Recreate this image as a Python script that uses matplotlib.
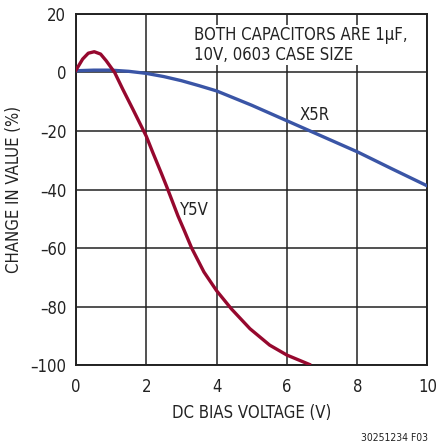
import matplotlib.pyplot as plt
import matplotlib.font_manager as fm

# X5R and Y5V capacitance change vs DC bias
x5r_v = [0, 0.5, 1.0, 1.5, 2.0, 2.5, 3.0, 3.5, 4.0, 5.0, 6.0, 7.0, 8.0, 9.0, 10.0]
x5r_pct = [0.6, 0.8, 0.8, 0.4, -0.3, -1.4, -2.8, -4.5, -6.3, -11.2, -16.5, -21.8, -27.1, -33.0, -38.8]

y5v_v = [0, 0.19, 0.35, 0.52, 0.7, 0.86, 1.1, 1.33, 1.62, 2.0, 2.19, 2.43, 2.58, 2.9,
         3.08, 3.29, 3.64, 4.0, 4.42, 4.95, 5.51, 6.0, 6.64]
y5v_pct = [0.8, 4.6, 6.6, 7.1, 6.3, 4.0, 0.0, -5.7, -12.6, -21.8, -27.5, -34.5, -39.0, -49.0,
           -54.0, -60.0, -68.2, -74.6, -80.8, -87.6, -93.2, -96.6, -99.8]

xticks = [0, 2, 4, 6, 8, 10]
yticks = [20, 0, -20, -40, -60, -80, -100]

names = {f.name for f in fm.fontManager.ttflist}
if 'Liberation Sans Narrow' in names:
    plt.rcParams['font.family'] = ['Liberation Sans Narrow', 'DejaVu Sans']
    fs = 13.3
else:
    plt.rcParams['font.family'] = ['DejaVu Sans']
    plt.rcParams['font.stretch'] = 'condensed'
    fs = 12

ink = '#222222'
fig = plt.figure(figsize=(4.39, 4.47), dpi=100)
ax = fig.add_axes([0.1731, 0.1834, 0.8007, 0.7853])

ax.plot(x5r_v, x5r_pct, color='#3a55a6', lw=2.4, zorder=3)
ax.plot(y5v_v, y5v_pct, color='#96082e', lw=2.4, zorder=3)

ax.set_xlim(0, 10)
ax.set_ylim(-100, 20)
ax.set_xticks(xticks)
ax.set_yticks(yticks)
ax.set_yticklabels([str(t).replace('-', '\u2013') for t in yticks])
ax.tick_params(length=0, labelsize=fs, colors=ink)
ax.tick_params(axis='x', pad=9)
ax.tick_params(axis='y', pad=7)
ax.grid(True, color=ink, lw=1.1)
for s in ax.spines.values():
    s.set_color(ink)
    s.set_linewidth(1.4)

ax.set_xlabel('DC BIAS VOLTAGE (V)', fontsize=fs, color=ink, labelpad=6)
ax.set_ylabel('CHANGE IN VALUE (%)', fontsize=fs, color=ink, labelpad=5)

ax.text(3.35, 15.8, 'BOTH CAPACITORS ARE 1\u00b5F,\n10V, 0603 CASE SIZE', fontsize=fs,
        ha='left', va='top', color=ink, linespacing=1.1,
        bbox=dict(facecolor='white', edgecolor='none', pad=1), zorder=4)
ax.text(6.79, -14.4, 'X5R', fontsize=fs, ha='center', va='center', color=ink, zorder=2)
ax.text(3.38, -47.0, 'Y5V', fontsize=fs, ha='center', va='center', color=ink, zorder=2)

fig.text(0.974, 0.008, '30251234 F03', fontsize=7.5, ha='right', va='bottom', color=ink)

fig.savefig('out.png', dpi=100)
